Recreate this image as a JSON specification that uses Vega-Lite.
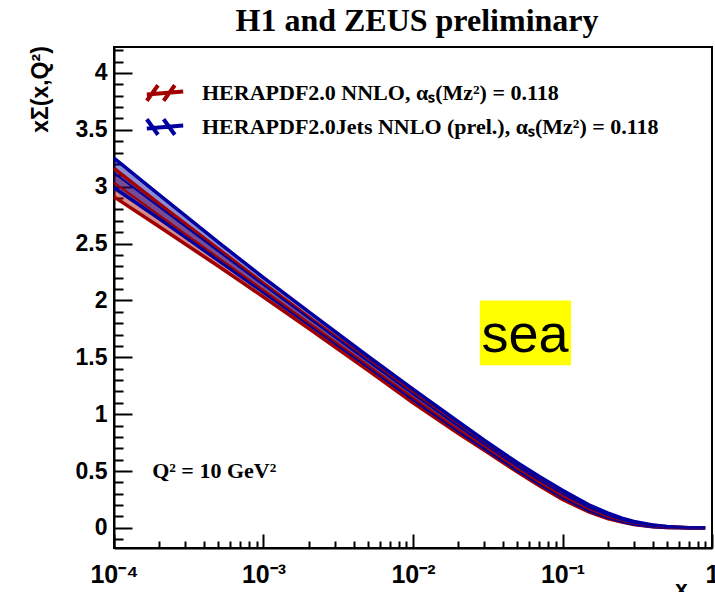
{
  "$schema": "https://vega.github.io/schema/vega-lite/v6.json",
  "width": 598,
  "height": 501,
  "autosize": "none",
  "padding": {"left": 114, "top": 47, "right": 3, "bottom": 44},
  "background": "white",
  "view": {"stroke": "black", "strokeWidth": 2},
  "title": {
    "text": "H1 and ZEUS preliminary",
    "font": "Liberation Serif",
    "fontWeight": "bold",
    "fontSize": 32,
    "color": "black",
    "anchor": "middle",
    "frame": "group",
    "baseline": "alphabetic",
    "offset": 20,
    "dx": 4,
    "dy": 37
  },
  "config": {
    "axis": {
      "domainColor": "black",
      "domainWidth": 2,
      "tickColor": "black",
      "tickWidth": 2,
      "grid": false,
      "labelFont": "Liberation Sans",
      "labelFontWeight": "bold",
      "labelFontSize": 23,
      "labelColor": "black",
      "titleFont": "Liberation Sans",
      "titleFontWeight": "bold",
      "titleFontSize": 23,
      "titleColor": "black"
    }
  },
  "datasets": {
    "bands": [
      {"x": 0.0001, "series": "HERAPDF2.0 NNLO, αₛ(Mᴢ²) = 0.118", "lo": 2.91, "hi": 3.16, "mid": 3.035},
      {"x": 0.0002, "series": "HERAPDF2.0 NNLO, αₛ(Mᴢ²) = 0.118", "lo": 2.65, "hi": 2.85, "mid": 2.75},
      {"x": 0.0005, "series": "HERAPDF2.0 NNLO, αₛ(Mᴢ²) = 0.118", "lo": 2.3, "hi": 2.45, "mid": 2.375},
      {"x": 0.001, "series": "HERAPDF2.0 NNLO, αₛ(Mᴢ²) = 0.118", "lo": 2.03, "hi": 2.15, "mid": 2.09},
      {"x": 0.002, "series": "HERAPDF2.0 NNLO, αₛ(Mᴢ²) = 0.118", "lo": 1.755, "hi": 1.855, "mid": 1.805},
      {"x": 0.005, "series": "HERAPDF2.0 NNLO, αₛ(Mᴢ²) = 0.118", "lo": 1.385, "hi": 1.475, "mid": 1.43},
      {"x": 0.01, "series": "HERAPDF2.0 NNLO, αₛ(Mᴢ²) = 0.118", "lo": 1.1, "hi": 1.19, "mid": 1.145},
      {"x": 0.02, "series": "HERAPDF2.0 NNLO, αₛ(Mᴢ²) = 0.118", "lo": 0.831, "hi": 0.905, "mid": 0.868},
      {"x": 0.03, "series": "HERAPDF2.0 NNLO, αₛ(Mᴢ²) = 0.118", "lo": 0.683, "hi": 0.749, "mid": 0.716},
      {"x": 0.05, "series": "HERAPDF2.0 NNLO, αₛ(Mᴢ²) = 0.118", "lo": 0.49, "hi": 0.55, "mid": 0.52},
      {"x": 0.07, "series": "HERAPDF2.0 NNLO, αₛ(Mᴢ²) = 0.118", "lo": 0.37, "hi": 0.43, "mid": 0.4},
      {"x": 0.1, "series": "HERAPDF2.0 NNLO, αₛ(Mᴢ²) = 0.118", "lo": 0.25, "hi": 0.31, "mid": 0.28},
      {"x": 0.15, "series": "HERAPDF2.0 NNLO, αₛ(Mᴢ²) = 0.118", "lo": 0.14, "hi": 0.19, "mid": 0.165},
      {"x": 0.2, "series": "HERAPDF2.0 NNLO, αₛ(Mᴢ²) = 0.118", "lo": 0.082, "hi": 0.118, "mid": 0.1},
      {"x": 0.25, "series": "HERAPDF2.0 NNLO, αₛ(Mᴢ²) = 0.118", "lo": 0.052, "hi": 0.078, "mid": 0.065},
      {"x": 0.3, "series": "HERAPDF2.0 NNLO, αₛ(Mᴢ²) = 0.118", "lo": 0.03, "hi": 0.05, "mid": 0.04},
      {"x": 0.4, "series": "HERAPDF2.0 NNLO, αₛ(Mᴢ²) = 0.118", "lo": 0.01, "hi": 0.022, "mid": 0.016},
      {"x": 0.5, "series": "HERAPDF2.0 NNLO, αₛ(Mᴢ²) = 0.118", "lo": 0.003, "hi": 0.01, "mid": 0.006},
      {"x": 0.7, "series": "HERAPDF2.0 NNLO, αₛ(Mᴢ²) = 0.118", "lo": 0.0, "hi": 0.002, "mid": 0.001},
      {"x": 0.9, "series": "HERAPDF2.0 NNLO, αₛ(Mᴢ²) = 0.118", "lo": 0.0, "hi": 0.0005, "mid": 0.0},
      {"x": 0.0001, "series": "HERAPDF2.0Jets NNLO (prel.), αₛ(Mᴢ²) = 0.118", "lo": 2.99, "hi": 3.25, "mid": 3.12},
      {"x": 0.0002, "series": "HERAPDF2.0Jets NNLO (prel.), αₛ(Mᴢ²) = 0.118", "lo": 2.72, "hi": 2.93, "mid": 2.824},
      {"x": 0.0005, "series": "HERAPDF2.0Jets NNLO (prel.), αₛ(Mᴢ²) = 0.118", "lo": 2.35, "hi": 2.51, "mid": 2.431},
      {"x": 0.001, "series": "HERAPDF2.0Jets NNLO (prel.), αₛ(Mᴢ²) = 0.118", "lo": 2.07, "hi": 2.2, "mid": 2.135},
      {"x": 0.002, "series": "HERAPDF2.0Jets NNLO (prel.), αₛ(Mᴢ²) = 0.118", "lo": 1.791, "hi": 1.901, "mid": 1.846},
      {"x": 0.005, "series": "HERAPDF2.0Jets NNLO (prel.), αₛ(Mᴢ²) = 0.118", "lo": 1.419, "hi": 1.509, "mid": 1.464},
      {"x": 0.01, "series": "HERAPDF2.0Jets NNLO (prel.), αₛ(Mᴢ²) = 0.118", "lo": 1.13, "hi": 1.22, "mid": 1.175},
      {"x": 0.02, "series": "HERAPDF2.0Jets NNLO (prel.), αₛ(Mᴢ²) = 0.118", "lo": 0.855, "hi": 0.935, "mid": 0.895},
      {"x": 0.03, "series": "HERAPDF2.0Jets NNLO (prel.), αₛ(Mᴢ²) = 0.118", "lo": 0.7, "hi": 0.77, "mid": 0.735},
      {"x": 0.05, "series": "HERAPDF2.0Jets NNLO (prel.), αₛ(Mᴢ²) = 0.118", "lo": 0.507, "hi": 0.573, "mid": 0.54},
      {"x": 0.07, "series": "HERAPDF2.0Jets NNLO (prel.), αₛ(Mᴢ²) = 0.118", "lo": 0.388, "hi": 0.452, "mid": 0.42},
      {"x": 0.1, "series": "HERAPDF2.0Jets NNLO (prel.), αₛ(Mᴢ²) = 0.118", "lo": 0.27, "hi": 0.33, "mid": 0.3},
      {"x": 0.15, "series": "HERAPDF2.0Jets NNLO (prel.), αₛ(Mᴢ²) = 0.118", "lo": 0.153, "hi": 0.203, "mid": 0.178},
      {"x": 0.2, "series": "HERAPDF2.0Jets NNLO (prel.), αₛ(Mᴢ²) = 0.118", "lo": 0.092, "hi": 0.132, "mid": 0.112},
      {"x": 0.25, "series": "HERAPDF2.0Jets NNLO (prel.), αₛ(Mᴢ²) = 0.118", "lo": 0.058, "hi": 0.086, "mid": 0.072},
      {"x": 0.3, "series": "HERAPDF2.0Jets NNLO (prel.), αₛ(Mᴢ²) = 0.118", "lo": 0.034, "hi": 0.056, "mid": 0.045},
      {"x": 0.4, "series": "HERAPDF2.0Jets NNLO (prel.), αₛ(Mᴢ²) = 0.118", "lo": 0.012, "hi": 0.025, "mid": 0.018},
      {"x": 0.5, "series": "HERAPDF2.0Jets NNLO (prel.), αₛ(Mᴢ²) = 0.118", "lo": 0.004, "hi": 0.012, "mid": 0.008},
      {"x": 0.7, "series": "HERAPDF2.0Jets NNLO (prel.), αₛ(Mᴢ²) = 0.118", "lo": 0.0, "hi": 0.002, "mid": 0.001},
      {"x": 0.9, "series": "HERAPDF2.0Jets NNLO (prel.), αₛ(Mᴢ²) = 0.118", "lo": 0.0, "hi": 0.0005, "mid": 0.0}
    ]
  },
  "resolve": {"axis": {"x": "independent", "y": "independent"}},
  "layer": [
    {
      "data": {"name": "bands"},
      "mark": {"type": "area", "opacity": 0.45},
      "encoding": {
        "x": {"field": "x", "type": "quantitative",
              "scale": {"type": "log", "domain": [0.0001, 1], "nice": false},
              "axis": {"values": [0.0001, 0.001, 0.01, 0.1, 1], "tickSize": -14,
                       "labelExpr": "datum.value < 0.00015 ? '10⁻⁴' : datum.value < 0.0015 ? '10⁻³' : datum.value < 0.015 ? '10⁻²' : datum.value < 0.15 ? '10⁻¹' : '1'",
                       "labelFontSize": 25, "labelPadding": 28, "labelFlush": false, "labelOverlap": false,
                       "title": "x", "titleAlign": "center", "titleBaseline": "top", "titleY": 30, "titleX": 567}},
        "y": {"field": "lo", "type": "quantitative",
              "scale": {"domain": [-0.177, 4.228], "nice": false, "zero": false},
              "axis": {"values": [0, 0.5, 1, 1.5, 2, 2.5, 3, 3.5, 4], "tickSize": -18,
                       "labelExpr": "datum.value == 0 ? '0' : format(datum.value, '.2~f')",
                       "labelPadding": 25, "labelFlush": false, "labelOverlap": false,
                       "title": "xΣ(x,Q²)", "titleAngle": -90, "titleAlign": "center", "titleBaseline": "middle", "titleX": -74, "titleY": 42}},
        "y2": {"field": "hi"},
        "color": {"field": "series", "type": "nominal",
                  "scale": {"range": ["#a00000", "#0000a0"]},
                  "legend": {"orient": "none", "legendX": 35, "legendY": 30, "title": null,
                             "symbolType": "M-1.3,0.55 L-0.5,-0.55 M-0.1,0.55 L0.7,-0.55 M-1.3,0.1 L1.3,-0.1",
                             "symbolSize": 784, "symbolStrokeWidth": 4, "symbolOpacity": 1,
                             "labelFont": "Liberation Serif", "labelFontWeight": "bold", "labelFontSize": 22, "labelColor": "black",
                             "labelLimit": 700, "labelOffset": 21, "rowPadding": 2, "padding": 0,
                             "encode": {"symbols": {"update": {
                               "shape": {"signal": "indexof(datum.value, 'Jets') >= 0 ? 'M-1.3,-0.55 L-0.5,0.55 M-0.1,-0.55 L0.7,0.55 M-1.3,0.1 L1.3,-0.1' : 'M-1.3,0.55 L-0.5,-0.55 M-0.1,0.55 L0.7,-0.55 M-1.3,0.1 L1.3,-0.1'"},
                               "stroke": {"signal": "indexof(datum.value, 'Jets') >= 0 ? '#0000a0' : '#a00000'"},
                               "fill": {"value": "transparent"},
                               "opacity": {"value": 1},
                               "strokeWidth": {"value": 4}}}}}}
      }
    },
    {
      "data": {"name": "bands"},
      "mark": {"type": "line", "strokeWidth": 3.5},
      "encoding": {
        "x": {"field": "x", "type": "quantitative",
              "scale": {"type": "log", "domain": [0.0001, 1], "nice": false},
              "axis": {"orient": "bottom", "values": [0.0002, 0.0003, 0.0004, 0.0005, 0.0006, 0.0007, 0.0008, 0.0009, 0.002, 0.003, 0.004, 0.005, 0.006, 0.007, 0.008, 0.009, 0.02, 0.03, 0.04, 0.05, 0.06, 0.07, 0.08, 0.09, 0.2, 0.3, 0.4, 0.5, 0.6, 0.7, 0.8, 0.9], "tickSize": -7, "labels": false, "domain": false, "title": null}},
        "y": {"field": "lo", "type": "quantitative",
              "scale": {"domain": [-0.177, 4.228], "nice": false, "zero": false},
              "axis": {"orient": "left", "values": [-0.1, 0.1, 0.2, 0.3, 0.4, 0.6, 0.7, 0.8, 0.9, 1.1, 1.2, 1.3, 1.4, 1.6, 1.7, 1.8, 1.9, 2.1, 2.2, 2.3, 2.4, 2.6, 2.7, 2.8, 2.9, 3.1, 3.2, 3.3, 3.4, 3.6, 3.7, 3.8, 3.9, 4.1, 4.2], "tickSize": -9, "labels": false, "domain": false, "title": null}},
        "color": {"field": "series", "type": "nominal", "scale": {"range": ["#a00000", "#0000a0"]}}
      }
    },
    {
      "data": {"name": "bands"},
      "mark": {"type": "line", "strokeWidth": 3.5},
      "encoding": {
        "x": {"field": "x", "type": "quantitative", "scale": {"type": "log", "domain": [0.0001, 1], "nice": false}, "axis": null},
        "y": {"field": "hi", "type": "quantitative", "scale": {"domain": [-0.177, 4.228], "nice": false, "zero": false}, "axis": null},
        "color": {"field": "series", "type": "nominal", "scale": {"range": ["#a00000", "#0000a0"]}}
      }
    },
    {
      "data": {"name": "bands"},
      "mark": {"type": "line", "strokeWidth": 2},
      "encoding": {
        "x": {"field": "x", "type": "quantitative", "scale": {"type": "log", "domain": [0.0001, 1], "nice": false}, "axis": null},
        "y": {"field": "mid", "type": "quantitative", "scale": {"domain": [-0.177, 4.228], "nice": false, "zero": false}, "axis": null},
        "color": {"field": "series", "type": "nominal", "scale": {"range": ["#a00000", "#0000a0"]}}
      }
    },
    {
      "data": {"values": [{"x": 0.00018, "y": 0.5, "label": "Q² = 10 GeV²"}]},
      "mark": {"type": "text", "font": "Liberation Serif", "fontWeight": "bold", "fontSize": 22, "align": "left", "baseline": "middle", "color": "black"},
      "encoding": {
        "x": {"field": "x", "type": "quantitative", "scale": {"type": "log", "domain": [0.0001, 1], "nice": false}, "axis": null},
        "y": {"field": "y", "type": "quantitative", "scale": {"domain": [-0.177, 4.228], "nice": false, "zero": false}, "axis": null},
        "text": {"field": "label"}
      }
    },
    {
      "data": {"values": [{"x": 0.028, "x2": 0.114, "y": 1.43, "y2": 2.0}]},
      "mark": {"type": "rect", "fill": "#ffff00"},
      "encoding": {
        "x": {"field": "x", "type": "quantitative", "scale": {"type": "log", "domain": [0.0001, 1], "nice": false}, "axis": null},
        "x2": {"field": "x2"},
        "y": {"field": "y", "type": "quantitative", "scale": {"domain": [-0.177, 4.228], "nice": false, "zero": false}, "axis": null},
        "y2": {"field": "y2"}
      }
    },
    {
      "data": {"values": [{"x": 0.0561, "y": 1.545, "label": "sea"}]},
      "mark": {"type": "text", "font": "Liberation Sans", "fontSize": 54, "align": "center", "baseline": "alphabetic", "color": "black"},
      "encoding": {
        "x": {"field": "x", "type": "quantitative", "scale": {"type": "log", "domain": [0.0001, 1], "nice": false}, "axis": null},
        "y": {"field": "y", "type": "quantitative", "scale": {"domain": [-0.177, 4.228], "nice": false, "zero": false}, "axis": null},
        "text": {"field": "label"}
      }
    }
  ]
}
